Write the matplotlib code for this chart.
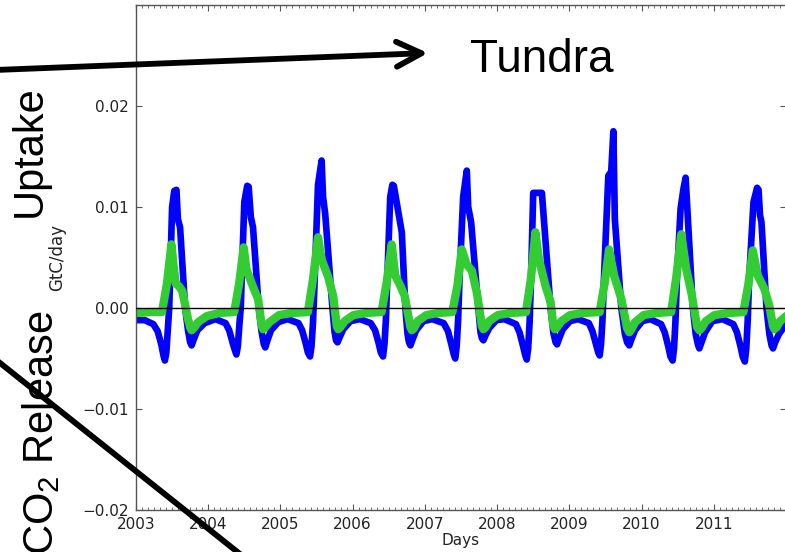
import matplotlib
matplotlib.use("Agg")
import matplotlib.pyplot as plt
from matplotlib.lines import Line2D
from matplotlib.patches import FancyArrowPatch
from matplotlib.ticker import MultipleLocator

# -----------------------------------------------------------------------------
# DATA (time in fractional years)
# -----------------------------------------------------------------------------

blue_t = [
    2003.00, 2003.12, 2003.24, 2003.30, 2003.35, 2003.38, 2003.40, 2003.42, 2003.44, 2003.46, 2003.50, 2003.53, 2003.56,
    2003.58, 2003.61, 2003.68, 2003.72, 2003.75, 2003.77, 2003.80, 2003.85, 2003.95,
    2004.10, 2004.24, 2004.29, 2004.34, 2004.37, 2004.39, 2004.41, 2004.43, 2004.45, 2004.50, 2004.54, 2004.56,
    2004.59, 2004.62, 2004.70, 2004.74, 2004.77, 2004.79, 2004.82, 2004.87, 2004.97,
    2005.10, 2005.25, 2005.30, 2005.35, 2005.38, 2005.41, 2005.43, 2005.45, 2005.47, 2005.52, 2005.57,
    2005.59, 2005.62, 2005.72, 2005.75, 2005.77, 2005.79, 2005.82, 2005.87, 2005.97,
    2006.10, 2006.25, 2006.31, 2006.36, 2006.39, 2006.42, 2006.44, 2006.46, 2006.48, 2006.52, 2006.55, 2006.57,
    2006.68, 2006.73, 2006.76, 2006.78, 2006.80, 2006.83, 2006.88, 2006.98,
    2007.10, 2007.26, 2007.32, 2007.37, 2007.40, 2007.42, 2007.44, 2007.46, 2007.48, 2007.53, 2007.58,
    2007.60, 2007.64, 2007.74, 2007.77, 2007.79, 2007.81, 2007.84, 2007.89, 2007.99,
    2008.10, 2008.26, 2008.31, 2008.36, 2008.39, 2008.41, 2008.43, 2008.45, 2008.47, 2008.50, 2008.62,
    2008.74, 2008.78, 2008.81, 2008.83, 2008.86, 2008.91, 2009.01,
    2009.12, 2009.27, 2009.32, 2009.37, 2009.40, 2009.42, 2009.44, 2009.46, 2009.48, 2009.54, 2009.58, 2009.61,
    2009.63, 2009.72, 2009.77, 2009.80, 2009.83, 2009.86, 2009.91, 2010.01,
    2010.12, 2010.27, 2010.32, 2010.37, 2010.40, 2010.43, 2010.45, 2010.47, 2010.49, 2010.54, 2010.58, 2010.61,
    2010.64, 2010.71, 2010.75, 2010.78, 2010.80, 2010.83, 2010.88, 2010.98,
    2011.12, 2011.27, 2011.32, 2011.37, 2011.40, 2011.43, 2011.45, 2011.47, 2011.49, 2011.55, 2011.60, 2011.62,
    2011.64, 2011.66, 2011.73, 2011.77, 2011.80, 2011.82, 2011.85, 2011.90, 2012.00,
]
blue_v = [
    -0.0012, -0.0012, -0.0016, -0.0023, -0.0036, -0.0047, -0.0052, -0.0044, -0.0022, 0.0000, 0.0100, 0.0116, 0.0117,
    0.0088, 0.0080, 0.0000, -0.0022, -0.0034, -0.0037, -0.0031, -0.0022, -0.0015,
    -0.0011, -0.0015, -0.0022, -0.0035, -0.0042, -0.0046, -0.0038, -0.0018, 0.0000, 0.0105, 0.0121, 0.0120,
    0.0090, 0.0080, 0.0000, -0.0024, -0.0036, -0.0039, -0.0032, -0.0022, -0.0014,
    -0.0011, -0.0015, -0.0022, -0.0035, -0.0044, -0.0048, -0.0038, -0.0015, 0.0020, 0.0122, 0.0146,
    0.0110, 0.0093, 0.0000, -0.0024, -0.0032, -0.0034, -0.0029, -0.0021, -0.0013,
    -0.0011, -0.0015, -0.0022, -0.0035, -0.0044, -0.0048, -0.0036, -0.0012, 0.0030, 0.0110, 0.0122, 0.0121,
    0.0075, 0.0000, -0.0026, -0.0034, -0.0037, -0.0031, -0.0022, -0.0013,
    -0.0011, -0.0015, -0.0023, -0.0037, -0.0046, -0.0050, -0.0038, -0.0012, 0.0030, 0.0110, 0.0136,
    0.0100, 0.0085, 0.0000, -0.0024, -0.0030, -0.0032, -0.0027, -0.0020, -0.0012,
    -0.0011, -0.0016, -0.0024, -0.0038, -0.0047, -0.0051, -0.0040, -0.0014, 0.0030, 0.0114, 0.0114,
    0.0000, -0.0025, -0.0034, -0.0036, -0.0030, -0.0021, -0.0013,
    -0.0011, -0.0015, -0.0023, -0.0036, -0.0044, -0.0047, -0.0035, -0.0010, 0.0030, 0.0131, 0.0135, 0.0175,
    0.0088, 0.0000, -0.0026, -0.0034, -0.0037, -0.0031, -0.0022, -0.0013,
    -0.0011, -0.0016, -0.0024, -0.0038, -0.0048, -0.0052, -0.0040, -0.0012, 0.0030, 0.0098, 0.0118, 0.0129,
    0.0090, 0.0000, -0.0026, -0.0036, -0.0040, -0.0034, -0.0024, -0.0013,
    -0.0011, -0.0016, -0.0024, -0.0038, -0.0048, -0.0053, -0.0040, -0.0012, 0.0030, 0.0105, 0.0119, 0.0117,
    0.0092, 0.0085, 0.0000, -0.0026, -0.0037, -0.0040, -0.0034, -0.0026, -0.0016,
]

green_t = [
    2003.00, 2003.20, 2003.36, 2003.43, 2003.49, 2003.52, 2003.55, 2003.59, 2003.64, 2003.72, 2003.75, 2003.77, 2003.80, 2003.86, 2003.98,
    2004.15, 2004.36, 2004.43, 2004.49, 2004.53, 2004.62, 2004.69, 2004.74, 2004.76, 2004.79, 2004.85, 2004.98,
    2005.15, 2005.38, 2005.45, 2005.52, 2005.57, 2005.66, 2005.73, 2005.78, 2005.80, 2005.83, 2005.89, 2006.01,
    2006.18, 2006.40, 2006.47, 2006.54, 2006.59, 2006.66, 2006.72, 2006.80, 2006.82, 2006.85, 2006.90, 2007.02,
    2007.18, 2007.38, 2007.45, 2007.51, 2007.58, 2007.65, 2007.72, 2007.79, 2007.81, 2007.84, 2007.89, 2008.01,
    2008.18, 2008.40, 2008.47, 2008.53, 2008.58, 2008.67, 2008.74, 2008.78, 2008.80, 2008.83, 2008.89, 2009.01,
    2009.18, 2009.42, 2009.49, 2009.55, 2009.62, 2009.72, 2009.80, 2009.83, 2009.86, 2009.91, 2010.03,
    2010.20, 2010.41, 2010.48, 2010.55, 2010.62, 2010.69, 2010.77, 2010.80, 2010.83, 2010.89, 2011.01,
    2011.20, 2011.41, 2011.48, 2011.54, 2011.61, 2011.70, 2011.77, 2011.82, 2011.84, 2011.87, 2011.92, 2012.00,
]
green_v = [
    -0.0005, -0.0004, -0.0004, 0.0025, 0.0063, 0.0042, 0.0024, 0.0022, 0.0017, -0.0011, -0.0019, -0.0022, -0.0020, -0.0014, -0.0008,
    -0.0005, -0.0004, 0.0025, 0.0060, 0.0038, 0.0021, 0.0009, -0.0017, -0.0021, -0.0019, -0.0014, -0.0007,
    -0.0005, -0.0004, 0.0028, 0.0070, 0.0048, 0.0031, 0.0012, -0.0018, -0.0021, -0.0019, -0.0013, -0.0007,
    -0.0005, -0.0004, 0.0025, 0.0063, 0.0032, 0.0022, 0.0012, -0.0019, -0.0022, -0.0020, -0.0013, -0.0007,
    -0.0005, -0.0004, 0.0022, 0.0058, 0.0043, 0.0037, 0.0015, -0.0018, -0.0021, -0.0019, -0.0013, -0.0007,
    -0.0005, -0.0004, 0.0030, 0.0075, 0.0048, 0.0022, 0.0006, -0.0018, -0.0021, -0.0019, -0.0013, -0.0007,
    -0.0005, -0.0004, 0.0025, 0.0058, 0.0032, 0.0009, -0.0020, -0.0024, -0.0021, -0.0014, -0.0007,
    -0.0005, -0.0004, 0.0030, 0.0073, 0.0038, 0.0015, -0.0019, -0.0022, -0.0020, -0.0013, -0.0007,
    -0.0005, -0.0004, 0.0024, 0.0057, 0.0032, 0.0019, 0.0002, -0.0018, -0.0021, -0.0019, -0.0013, -0.0008,
]

year_ticks = [2003, 2004, 2005, 2006, 2007, 2008, 2009, 2010, 2011]
year_labels = [str(y) for y in year_ticks]
y_ticks = [-0.02, -0.01, 0.00, 0.01, 0.02]
y_labels = ["\u22120.02", "\u22120.01", "0.00", "0.01", "0.02"]

# -----------------------------------------------------------------------------
# PLOT
# -----------------------------------------------------------------------------

W, H = 785, 552
fig = plt.figure(figsize=(W / 100, H / 100), dpi=100)
ax = fig.add_axes([136 / W, 1 - 510 / H, 650 / W, 505 / H])

ax.plot(blue_t, blue_v, color="#0000ff", lw=4.8,
        solid_joinstyle="round", solid_capstyle="round")
ax.plot(green_t, green_v, color="#33cc33", lw=6.0,
        solid_joinstyle="round", solid_capstyle="round")
ax.axhline(0, color="black", lw=1.0, zorder=5)

ax.set_xlim(2003, 2012)
ax.set_ylim(-0.02, 0.03)
ax.set_xticks(year_ticks)
ax.set_xticklabels(year_labels)
ax.xaxis.set_minor_locator(MultipleLocator(1 / 12))
ax.set_yticks(y_ticks)
ax.set_yticklabels(y_labels)

ax.tick_params(which="both", direction="in", top=True, right=True,
               color="#555555", labelsize=11, labelcolor="#222222")
ax.tick_params(which="major", length=4, pad=5)
ax.tick_params(which="minor", length=2)
for sp in ax.spines.values():
    sp.set_color("#555555")
    sp.set_linewidth(1.0)

ax.set_xlabel("Days", fontsize=11, color="#222222", labelpad=1)
ax.set_ylabel("GtC/day", fontsize=12, color="#222222")
ax.yaxis.set_label_coords(-0.108, 0.5)

# -----------------------------------------------------------------------------
# SLIDE ANNOTATIONS
# -----------------------------------------------------------------------------

fig.text(470 / W, 1 - 72 / H, "Tundra", fontsize=33, family="Liberation Sans",
         ha="left", va="baseline")
fig.text(30 / W, 1 - 85 / H, "Uptake", fontsize=30, family="Liberation Sans",
         rotation=90, ha="center", va="top")
fig.text(41 / W, 1 - 310 / H, "CO$_\\mathregular{2}$ Release", fontsize=30,
         family="Liberation Sans", rotation=90, ha="center", va="top")

arrow = FancyArrowPatch((-5 / W, 1 - 70 / H), (428 / W, 1 - 53 / H),
                        transform=fig.transFigure, shrinkA=0, shrinkB=0,
                        arrowstyle="->,head_length=0.4,head_width=0.2",
                        mutation_scale=45, lw=4.2, color="black")
fig.add_artist(arrow)
fig.add_artist(Line2D([-10 / W, 245 / W], [1 - 355 / H, 1 - 558 / H],
                      transform=fig.transFigure, color="black", lw=4.2))

fig.savefig("out.png", dpi=100)
